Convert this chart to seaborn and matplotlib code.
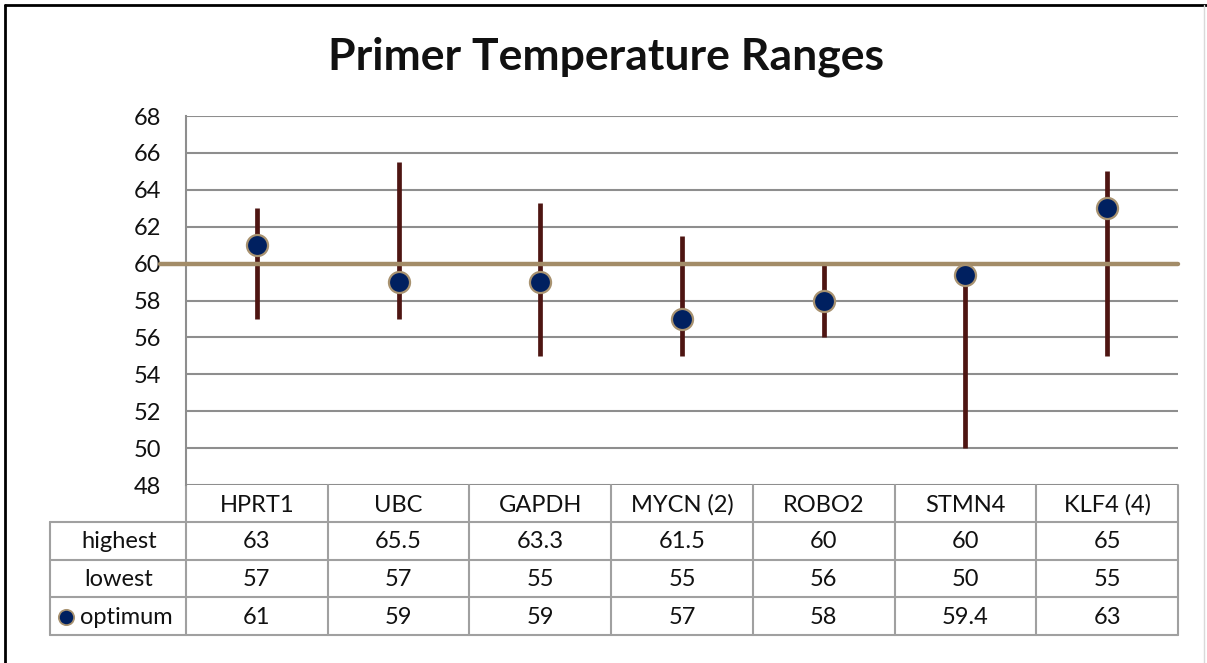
import numpy as np
import pandas as pd
import matplotlib
matplotlib.use("Agg")
import matplotlib.pyplot as plt
import matplotlib.transforms as mtransforms
from matplotlib.lines import Line2D
import seaborn as sns

# ---- data ----
categories = ["HPRT1", "UBC", "GAPDH", "MYCN (2)", "ROBO2", "STMN4", "KLF4 (4)"]
highest = [63, 65.5, 63.3, 61.5, 60, 60, 65]
lowest = [57, 57, 55, 55, 56, 50, 55]
optimum = [61, 59, 59, 57, 58, 59.4, 63]
reference_line = 60
y_ticks = [48, 50, 52, 54, 56, 58, 60, 62, 64, 66, 68]
row_names = ["highest", "lowest", "optimum"]
title = "Primer Temperature Ranges"

df = pd.DataFrame({"gene": categories, "highest": highest,
                   "lowest": lowest, "optimum": optimum})
df["pos"] = np.arange(len(df))

sns.set_style("white")
plt.rcParams["font.family"] = ["Lato", "DejaVu Sans"]

W, H = 1207, 663
fig = plt.figure(figsize=(W / 100, H / 100), dpi=100)

def fx(px):
    return px / W

def fy(py):
    return 1 - py / H

FS = 17
L, R, T, B = 186, 1178, 116, 485
ax = fig.add_axes([fx(L), fy(B), fx(R - L), (B - T) / H])
ax.set_xlim(-0.5, len(categories) - 0.5)
ax.set_ylim(48, 68)

GRID = "#8E8E8E"
TABLE = "#A0A0A0"
BAR = "#4E1512"
DOT = "#002060"
DOT_EDGE = "#A89270"
REF = "#A38C68"
TXT = "#111111"

for yv in y_ticks:
    ax.axhline(yv, color=GRID, lw=1.5, zorder=1)

# range bars
ax.vlines(df["pos"], df["lowest"], df["highest"], color=BAR, lw=3.4, zorder=3)

# reference line (extends slightly past the axis on the left)
ref_trans = mtransforms.blended_transform_factory(fig.transFigure, ax.transData)
ax.add_line(Line2D([fx(160), fx(R)], [reference_line, reference_line],
                   transform=ref_trans, color=REF, lw=3.2, zorder=4,
                   clip_on=False))

# optimum points
sns.scatterplot(data=df, x="pos", y="optimum", ax=ax, s=230, color=DOT,
                edgecolor=DOT_EDGE, linewidth=1.6, zorder=5, legend=False)

ax.set_xlabel("")
ax.set_ylabel("")
ax.set_xticks([])
ax.set_yticks(y_ticks)
ax.set_yticklabels([str(v) for v in y_ticks], fontsize=FS, color=TXT)
ax.tick_params(axis="y", length=0, pad=18)
for s in ["top", "right", "bottom"]:
    ax.spines[s].set_visible(False)
ax.spines["left"].set_color(GRID)
ax.spines["left"].set_linewidth(1.5)

# title
fig.text(fx(606), fy(57), title, ha="center", va="center",
         fontsize=32, fontweight="bold", color=TXT)

# ---- data table ----
colx = mtransforms.blended_transform_factory(ax.transData, fig.transFigure)
edges = np.arange(len(categories) + 1) - 0.5
row_tops = [485, 522, 560, 597, 635]

for e in edges:
    ax.add_line(Line2D([e, e], [fy(485), fy(635)], transform=colx,
                       color=TABLE, lw=1.5, clip_on=False))
for ry in row_tops[1:]:
    fig.add_artist(Line2D([fx(50), fx(R)], [fy(ry), fy(ry)],
                          color=TABLE, lw=1.5))
fig.add_artist(Line2D([fx(50), fx(50)], [fy(522), fy(635)],
                      color=TABLE, lw=1.5))

for i, c in enumerate(categories):
    ax.text(i, fy(505), c, transform=colx, ha="center", va="center",
            fontsize=FS, color=TXT)

rows = [highest, lowest, optimum]
for r, (name, vals) in enumerate(zip(row_names, rows)):
    yc = (row_tops[r + 1] + row_tops[r + 2]) / 2 + 1
    if name == "optimum":
        fig.text(fx(126), fy(yc), name, ha="center", va="center",
                 fontsize=FS, color=TXT)
        fig.add_artist(Line2D([fx(66)], [fy(yc)], marker="o", markersize=11,
                              markerfacecolor=DOT, markeredgecolor=DOT_EDGE,
                              markeredgewidth=1.3, linestyle="none"))
    else:
        fig.text(fx(119), fy(yc), name, ha="center", va="center",
                 fontsize=FS, color=TXT)
    for i, v in enumerate(vals):
        ax.text(i, fy(yc), f"{v:g}", transform=colx, ha="center",
                va="center", fontsize=FS, color=TXT)

# outer chart frame
fig.add_artist(Line2D([fx(4.5), fx(4.5)], [fy(4.5), 0], color="black", lw=2))
fig.add_artist(Line2D([fx(4.5), 1], [fy(4.5), fy(4.5)], color="black", lw=2))
fig.add_artist(Line2D([fx(1204), fx(1204)], [fy(5), 0], color="#D9D9D9", lw=1))

fig.savefig("out.png", dpi=100, facecolor="white")
